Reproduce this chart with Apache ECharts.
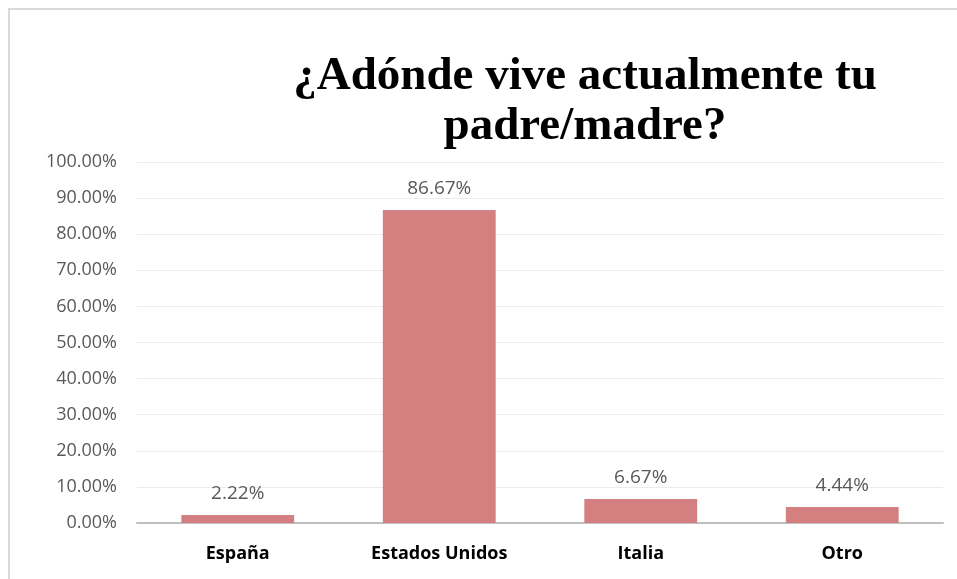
<!DOCTYPE html>
<html>
<head>
<meta charset="utf-8">
<script src="https://cdn.jsdelivr.net/npm/echarts@6/dist/echarts.min.js"></script>
<style>
  html, body { margin: 0; padding: 0; background: #fff; }
  #chart { width: 957px; height: 579px; }
</style>
</head>
<body>
<div id="chart"></div>
<script>
var categories = ['España', 'Estados Unidos', 'Italia', 'Otro']
var values = [2.22, 86.67, 6.67, 4.44]
var titleText = '¿Adónde vive actualmente tu\npadre/madre?'

var chart = echarts.init(document.getElementById('chart'))

var option = {
  animation: false,
  title: {
    text: titleText,
    left: 580,
    top: 47,
    textAlign: 'center',
    textStyle: {
      fontFamily: 'Liberation Serif',
      fontWeight: 'bold',
      fontSize: 47,
      lineHeight: 50,
      color: '#000'
    }
  },
  graphic: [{
    type: 'polyline',
    shape: { points: [[9, 600], [9, 9], [980, 9]] },
    style: { stroke: '#d9d9d9', lineWidth: 2, fill: null },
    silent: true
  }],
  grid: { left: 137, right: 14, top: 162, bottom: 56 },
  xAxis: {
    type: 'category',
    data: categories,
    axisLine: { lineStyle: { color: '#bfbfbf', width: 2 } },
    axisTick: { show: false },
    axisLabel: {
      color: '#000',
      fontWeight: 'bold',
      fontSize: 18,
      fontFamily: 'Open Sans',
      margin: 22
    }
  },
  yAxis: {
    type: 'value',
    min: 0,
    max: 100,
    interval: 10,
    axisLine: { show: false },
    axisTick: { show: false },
    splitLine: { lineStyle: { color: '#ececec', width: 1 } },
    axisLabel: {
      color: '#595959',
      fontSize: 18,
      fontFamily: 'Open Sans',
      margin: 20,
      formatter: function (v) { return v.toFixed(2) + '%' }
    }
  },
  series: [{
    type: 'bar',
    data: values,
    barWidth: '56%',
    itemStyle: { color: '#d47f80' },
    label: {
      show: true,
      position: 'top',
      distance: 12,
      color: '#595959',
      fontSize: 19,
      fontFamily: 'Open Sans',
      formatter: function (p) { return p.value.toFixed(2) + '%' }
    }
  }]
}

chart.setOption(option)
</script>
</body>
</html>
